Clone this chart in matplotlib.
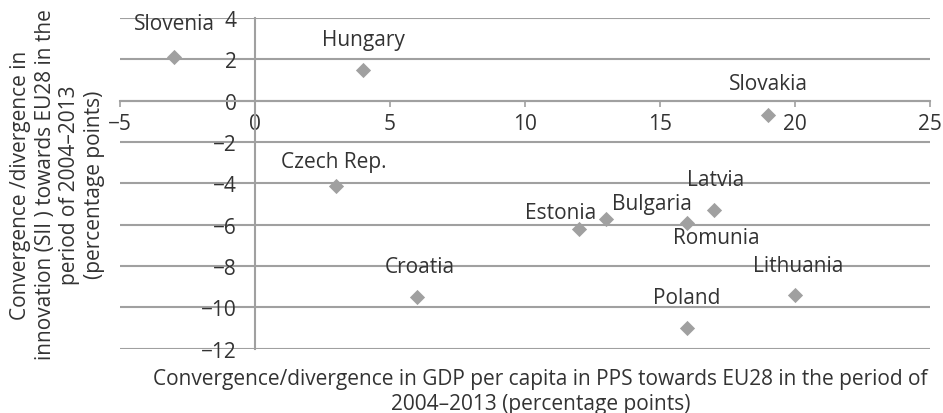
import matplotlib
matplotlib.use("Agg")
import matplotlib.pyplot as plt

plt.rcParams['font.family'] = ['Open Sans', 'DejaVu Sans']

countries = ["Slovenia", "Hungary", "Slovakia", "Czech Rep.", "Latvia", "Estonia",
             "Bulgaria", "Romunia", "Lithuania", "Croatia", "Poland"]
gdp_conv = [-3, 4, 19, 3, 17, 12, 13, 16, 20, 6, 16]
sii_conv = [2.1, 1.5, -0.7, -4.1, -5.3, -6.2, -5.7, -5.9, -9.4, -9.5, -11.0]
# label offsets in points (dx, dy) relative to each marker
label_offsets = [(0, 24), (0, 22), (0, 23), (-2, 17), (1, 22), (-13.5, 12),
                 (33, 11), (21, -11), (2, 21), (2, 22), (0, 22)]

x_ticks = [-5, 0, 5, 10, 15, 20, 25]
y_ticks = [4, 2, 0, -2, -4, -6, -8, -10, -12]

grey = "#a0a0a0"
text_col = "#333333"
fs = 15

fig = plt.figure(figsize=(9.43, 4.14), dpi=100)
ax = fig.add_axes([0.1273, 0.155, 0.8589, 0.799])

ax.set_xlim(-5, 25)
ax.set_ylim(-12, 4)
ax.set_xticks(x_ticks)
ax.set_yticks(y_ticks)
ax.set_xticklabels([f"\u2212{abs(v)}" if v < 0 else str(v) for v in x_ticks])
ax.set_yticklabels([f"\u2212{abs(v)}" if v < 0 else str(v) for v in y_ticks])

for s in ["top", "right"]:
    ax.spines[s].set_visible(False)
ax.spines["left"].set_position(("data", 0))
ax.spines["bottom"].set_position(("data", 0))
for s in ["left", "bottom"]:
    ax.spines[s].set_color(grey)
    ax.spines[s].set_linewidth(1.5)

ax.yaxis.grid(True, color=grey, linewidth=1.5)
ax.set_axisbelow(True)
ax.tick_params(axis="x", direction="out", length=4, width=1.2, color=grey,
               labelsize=fs, labelcolor=text_col, pad=5)
ax.tick_params(axis="y", length=0, labelsize=fs, labelcolor=text_col, pad=13)

ax.scatter(gdp_conv, sii_conv, marker="D", s=60, color=grey, zorder=3, linewidths=0)

for name, x, y, (dx, dy) in zip(countries, gdp_conv, sii_conv, label_offsets):
    ax.annotate(name, (x, y), xytext=(dx, dy), textcoords="offset points",
                ha="center", va="center", fontsize=fs, color=text_col)

fig.text(0.573, 0.053,
         "Convergence/divergence in GDP per capita in PPS towards EU28 in the period of\n"
         "2004\u20132013 (percentage points)",
         ha="center", va="center", fontsize=fs, color=text_col, linespacing=1.2)
fig.text(0.061, 0.553,
         "Convergence /divergence in\ninnovation (SII ) towards EU28 in the\n"
         "period of 2004\u20132013\n(percentage points)",
         ha="center", va="center", rotation=90, fontsize=fs, color=text_col,
         linespacing=1.23)

fig.savefig("out.png", dpi=100)
